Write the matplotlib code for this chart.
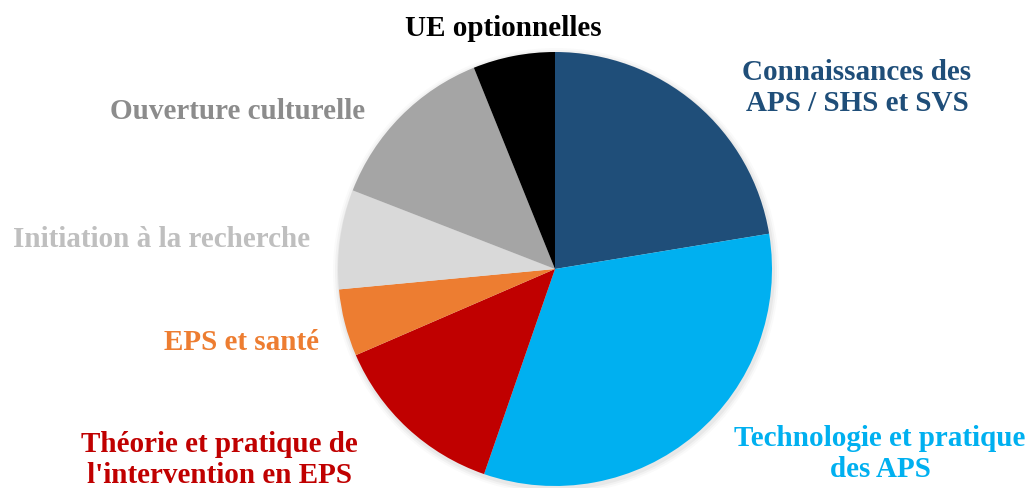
import matplotlib
matplotlib.use("Agg")
import matplotlib.pyplot as plt

categories = [
    "Connaissances des\nAPS / SHS et SVS",
    "Technologie et pratique\ndes APS",
    "Théorie et pratique de\nl'intervention en EPS",
    "EPS et santé",
    "Initiation à la recherche",
    "Ouverture culturelle",
    "UE optionnelles",
]
values = [22.4, 32.9, 13.2, 5.0, 7.4, 13.0, 6.1]
slice_colors = ["#1F4E79", "#00B0F0", "#C00000", "#ED7D31", "#D9D9D9", "#A5A5A5", "#000000"]
label_colors = ["#1F4E79", "#00B0F0", "#C00000", "#ED7D31", "#BFBFBF", "#8C8C8C", "#000000"]

W, H = 1030, 489
fig = plt.figure(figsize=(W / 100, H / 100), dpi=100)
ax = fig.add_axes([0, 0, 1, 1])
ax.set_xlim(0, W)
ax.set_ylim(0, H)
ax.axis("off")

cx, cy, r = 555, H - 270, 217
# soft shadow
for i, a in enumerate([0.04, 0.03, 0.02]):
    shadow = plt.Circle((cx + 1, cy - 2), r + 2 + i * 2, color="black", alpha=a, lw=0)
    ax.add_patch(shadow)

ax.pie(values, colors=slice_colors, startangle=90, counterclock=False,
       center=(cx, cy), radius=r, frame=True,
       wedgeprops=dict(linewidth=0))
ax.set_xlim(0, W)
ax.set_ylim(0, H)
ax.set_aspect("equal")
ax.axis("off")

label_pos = [
    (857, 88),
    (880, 454),
    (219, 460),
    (241, 343),
    (162, 240),
    (238, 112),
    (503, 29),
]
for lab, col, (x, y) in zip(categories, label_colors, label_pos):
    ax.text(x, H - y, lab, color=col, ha="center", va="center",
            fontsize=21, fontweight="bold", family="Liberation Serif",
            linespacing=1.2)

fig.savefig("out.png", dpi=100)
